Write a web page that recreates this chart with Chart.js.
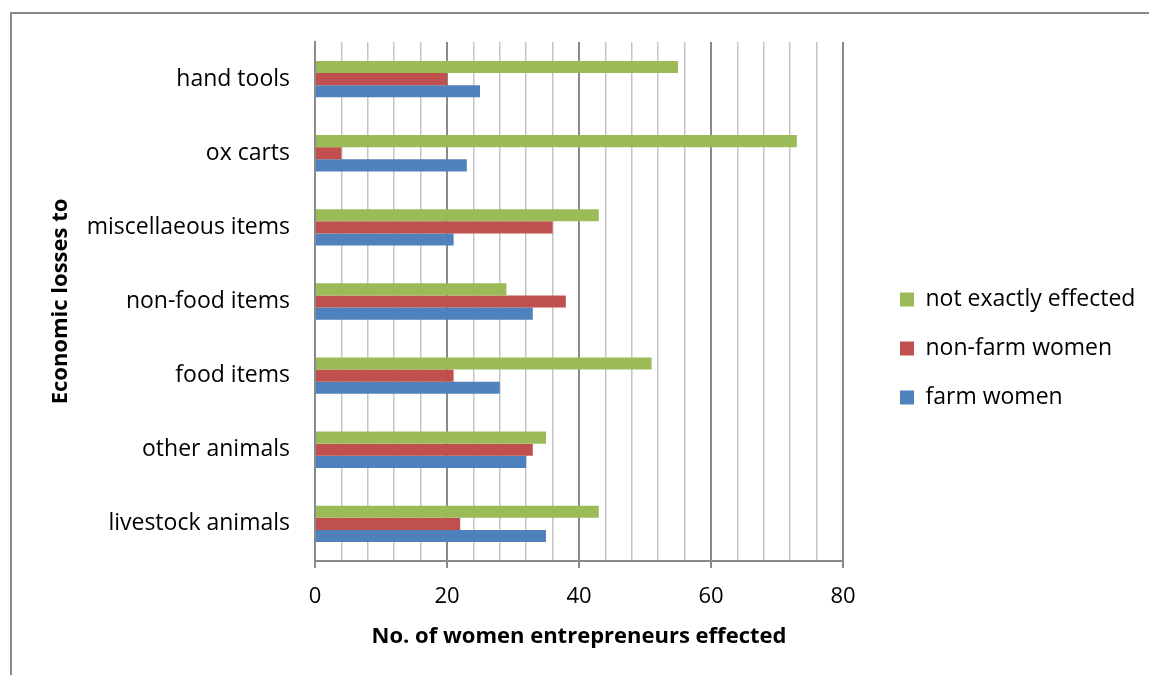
<!DOCTYPE html>
<html>
<head>
<meta charset="utf-8">
<script src="https://cdn.jsdelivr.net/npm/chart.js@4.4.1/dist/chart.umd.min.js"></script>
<style>
  html, body { margin: 0; padding: 0; background: #fff; }
  #wrap { position: relative; width: 1149px; height: 675px; overflow: hidden; }
  #frame { position: absolute; left: 10px; top: 12px; right: -2px; bottom: -2px;
           border-top: 2px solid #8a8a8a; border-left: 2px solid #8a8a8a; }
  #c { position: absolute; left: 0; top: 0; }
</style>
</head>
<body>
<div id="wrap">
  <div id="frame"></div>
  <canvas id="c" width="1149" height="675"></canvas>
</div>
<script>
// Loss categories, top to bottom
const categories = [
  'hand tools',
  'ox carts',
  'miscellaeous items',
  'non-food items',
  'food items',
  'other animals',
  'livestock animals'
];

// Number of women entrepreneurs per category
const notExactlyEffected = [55, 73, 43, 29, 51, 35, 43];
const nonFarmWomen       = [20, 4, 36, 38, 21, 33, 22];
const farmWomen          = [25, 23, 21, 33, 28, 32, 35];

const seriesNames = ['not exactly effected', 'non-farm women', 'farm women'];
const xTickLabels = [0, 20, 40, 60, 80];

const FONT = "'Open Sans', 'Liberation Sans', sans-serif";
const MAJOR = '#8a8a8a';
const MINOR = '#c4c4c4';

const isMajor = v => xTickLabels.includes(v);

// Fixed-width legend column on the right, with its entries set in from the plot
const LEGEND_WIDTH = 306;
const LEGEND_INSET = 31;
const legendColumn = {
  id: 'legendColumn',
  beforeLayout(chart) {
    const lg = chart.legend;
    if (lg && !lg._fixedFit) {
      const fit = lg.fit.bind(lg);
      lg.fit = function () { fit(); this.width = LEGEND_WIDTH; };
      lg._fixedFit = true;
    }
  },
  afterLayout(chart) {
    const lg = chart.legend;
    if (lg) { lg.left += LEGEND_INSET; lg.right += LEGEND_INSET; }
  }
};

new Chart(document.getElementById('c'), {
  type: 'bar',
  data: {
    labels: categories,
    datasets: [
      { label: seriesNames[0], data: notExactlyEffected, backgroundColor: '#9BBB59' },
      { label: seriesNames[1], data: nonFarmWomen,       backgroundColor: '#C0504D' },
      { label: seriesNames[2], data: farmWomen,          backgroundColor: '#4F81BD' }
    ]
  },
  plugins: [legendColumn],
  options: {
    indexAxis: 'y',
    responsive: false,
    animation: false,
    devicePixelRatio: 1,
    layout: { padding: { top: 42, left: 44, right: 0, bottom: 20 } },
    datasets: {
      bar: { barPercentage: 1.0, categoryPercentage: 0.49, borderWidth: 0 }
    },
    scales: {
      x: {
        min: 0,
        max: 80,
        afterFit: s => { s.height = 94; },
        ticks: {
          stepSize: 4,
          autoSkip: false,
          maxRotation: 0,
          color: '#000',
          font: { family: FONT, size: 22 },
          padding: 16,
          callback: v => (isMajor(v) ? String(v) : '')
        },
        grid: {
          color: ctx => (isMajor(ctx.tick.value) ? MAJOR : MINOR),
          lineWidth: ctx => (isMajor(ctx.tick.value) ? 2 : 1.5),
          tickColor: ctx => (isMajor(ctx.tick.value) ? MAJOR : 'rgba(0,0,0,0)'),
          tickLength: 7,
          drawTicks: true
        },
        border: { color: MAJOR, width: 2 },
        title: {
          display: true,
          text: 'No. of women entrepreneurs effected',
          color: '#000',
          font: { family: FONT, size: 22, weight: 'bold' },
          padding: { top: 4, bottom: 5 }
        }
      },
      y: {
        afterFit: s => { s.width = 271; },
        grid: { display: false, drawTicks: false },
        border: { color: MAJOR, width: 2 },
        ticks: {
          color: '#000',
          font: { family: FONT, size: 23 },
          padding: 25
        },
        title: {
          display: true,
          text: 'Economic losses to',
          color: '#000',
          font: { family: FONT, size: 22, weight: 'bold' },
          padding: { top: 4, bottom: 4 }
        }
      }
    },
    plugins: {
      legend: {
        position: 'right',
        align: 'center',
        labels: {
          color: '#000',
          font: { family: FONT, size: 23 },
          boxWidth: 14,
          boxHeight: 14,
          padding: 26
        }
      },
      tooltip: { enabled: false }
    }
  }
});
</script>
</body>
</html>
